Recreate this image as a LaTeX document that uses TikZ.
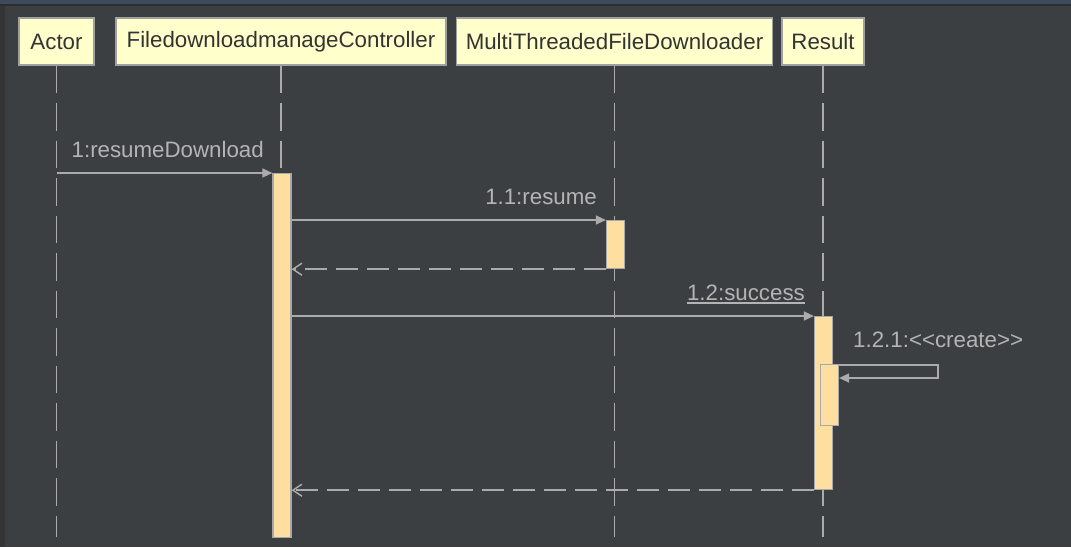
\documentclass[tikz,border=0pt]{standalone}
\usepackage{fontspec}
\newfontfamily\uifont{Liberation Sans}
\usetikzlibrary{arrows.meta}
\definecolor{bgcol}{HTML}{3C3F41}
\definecolor{topcol}{HTML}{3C4A5B}
\definecolor{edgecol}{HTML}{2B2D2F}
\definecolor{leftcol}{HTML}{323436}
\definecolor{hdfill}{HTML}{FFFFCC}
\definecolor{hdline}{HTML}{A0A0A0}
\definecolor{hdtext}{HTML}{333333}
\definecolor{lncol}{HTML}{ABABAB}
\definecolor{lbltext}{HTML}{B4B4B4}
\definecolor{barfill}{HTML}{FFDF9F}
\definecolor{barline}{HTML}{A8A8A8}
\tikzset{
  uitext/.style={font=\uifont\fontsize{22.3}{26}\selectfont},
  head/.style={uitext, draw=hdline, fill=hdfill, line width=1.2pt, minimum height=47pt, inner sep=0pt, text=hdtext},
  lifeline/.style={draw=lncol, line width=1.5pt, dash pattern=on 27.5pt off 10pt},
  actbar/.style={draw=barline, fill=barfill, line width=1.2pt, minimum width=18pt, inner sep=0pt, anchor=north},
  msg/.style={draw=lncol, line width=1.5pt, -{Triangle[length=10pt,width=9pt]}},
  ret/.style={draw=lncol, line width=1.5pt, dash pattern=on 22pt off 9pt, -{Straight Barb[length=9pt,width=12pt]}},
  lbl/.style={uitext, text=lbltext, inner sep=0pt},
}
\begin{document}
\begin{tikzpicture}[x=1pt,y=-1pt]
\useasboundingbox (0,0) rectangle (1071,547);
% background
\fill[bgcol] (0,0) rectangle (1071,547);
\fill[leftcol] (0,5) rectangle (5,547);
\fill[topcol] (0,0) rectangle (1071,3.5);
\fill[edgecol] (0,3.5) rectangle (1071,5.5);
% headers
\node[head, minimum width=75pt]  (actor) at (56.5,41.5) {Actor};
\node[head, minimum width=330pt] (cont)  at (281,41.5) {FiledownloadmanageController};
\node[head, minimum width=316pt] (mtfd)  at (614.5,41.5) {MultiThreadedFileDownloader};
\node[head, minimum width=82pt]  (res)   at (823,41.5) {Result};
\coordinate (bot) at (0,537);
% lifelines
\draw[lifeline] (actor.south) -- (actor.south |- bot);
\draw[lifeline] (cont.south) -- (cont.south |- bot);
\draw[lifeline] (mtfd.south) -- (mtfd.south |- bot);
\draw[lifeline] (res.south) -- (res.south |- bot);
% activation bars
\node[actbar, minimum height=364pt] (cbar) at (282,173) {};
\node[actbar, minimum height=48pt]  (mbar) at (615.5,220) {};
\node[actbar, minimum height=173pt] (rbar) at (823.5,316) {};
% messages
\draw[msg] (actor.south |- cbar.north) -- (cbar.north west);
\node[lbl, anchor=base east] (l1) at (264,157) {1:resumeDownload};
\draw[msg] (cbar.east |- mbar.north) -- (mbar.north west);
\node[lbl, anchor=base east] (l11) at (597,204) {1.1:resume};
\draw[ret] (mbar.south west) -- (cbar.east |- mbar.south);
\draw[msg] (cbar.east |- rbar.north) -- (rbar.north west);
\node[lbl, anchor=base east] (l12) at (805,300) {1.2:success};
\draw[lbltext, line width=1.2pt] ([yshift=-3pt]l12.base west) -- ([yshift=-3pt]l12.base east);
% nested activation and self message
\node[actbar, minimum height=61pt] (nbar) at (829.5,364) {};
\coordinate (sa) at (938,365);
\coordinate (sb) at (938,378);
\draw[msg] (nbar.east |- sa) -- (sa) -- (sb) -- (nbar.east |- sb);
\node[lbl, anchor=base west] (l121) at (853,347) {1.2.1:<\kern0pt<create>\kern0pt>};
\draw[ret] (rbar.south west) -- (cbar.east |- rbar.south);
\end{tikzpicture}
\end{document}
